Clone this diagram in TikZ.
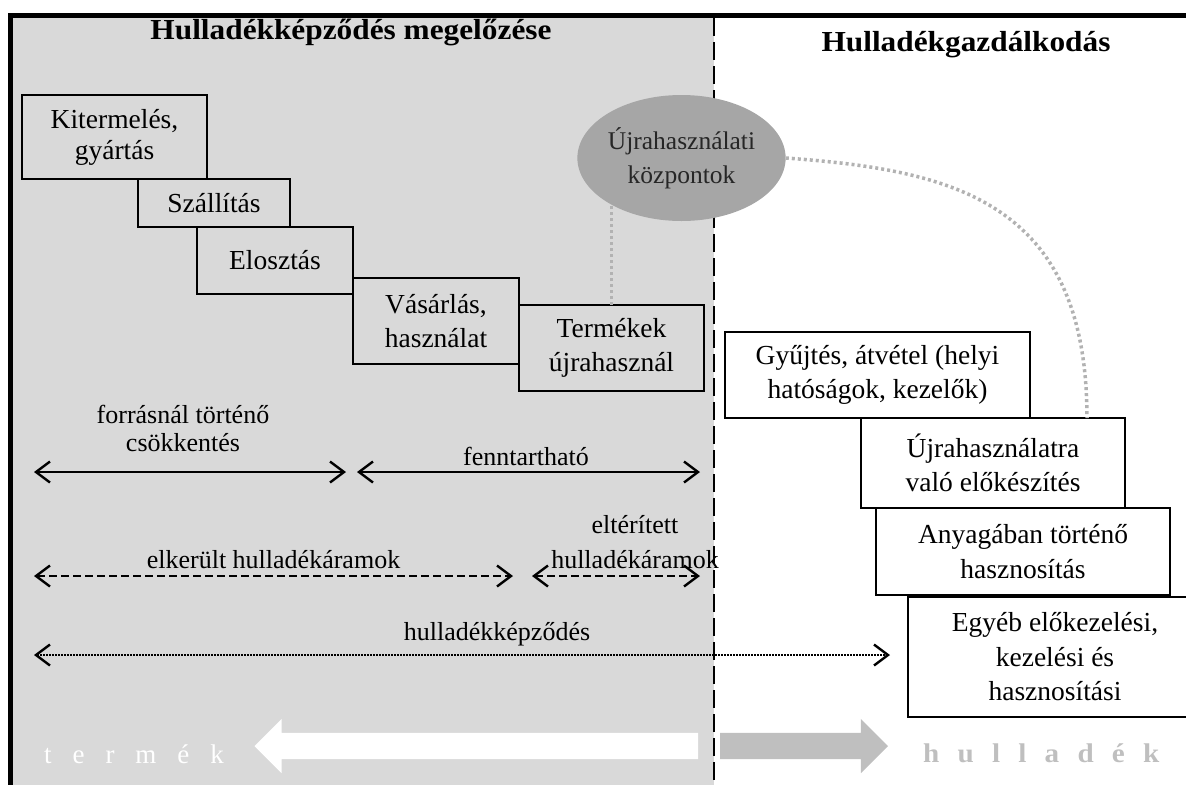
\documentclass[tikz,border=0pt]{standalone}
\usepackage{fontspec}
\setmainfont{Liberation Serif}[BoldFeatures={FakeStretch=1.08}]
\newfontfamily\ritkabetu{Liberation Serif}[WordSpace=3.1]
\newfontfamily\ritkavastag{Liberation Serif Bold}[WordSpace=2.5,FakeStretch=1.08]
\usepackage{tikz}
\usetikzlibrary{arrows.meta,positioning,shapes.geometric,shapes.arrows}
\definecolor{hatter}{RGB}{217,217,217}
\definecolor{kozpszurke}{RGB}{166,166,166}
\definecolor{pontszurke}{RGB}{178,178,178}
\definecolor{nyilszurke}{RGB}{191,191,191}

\begin{document}
\begin{tikzpicture}[x=1pt,y=-1pt,font=\fontsize{27.5}{34.5}\selectfont,
  >={Straight Barb[length=14pt,width=21pt,line width=2.4pt]}]
\tikzstyle{lep}=[draw,line width=2.2pt,align=center,inner sep=0pt,outer sep=0pt,anchor=north west]
\tikzstyle{cim}=[font=\fontsize{29}{34}\selectfont\bfseries,anchor=base]
\tikzstyle{cimke}=[font=\fontsize{26}{34}\selectfont,align=center,anchor=base,inner sep=0pt]
\tikzstyle{kapcs}=[draw=pontszurke,line width=3.5pt,dash pattern=on 3pt off 3pt]
\tikzstyle{nyil}=[<->,line width=2pt]
\tikzstyle{vastagnyil}=[single arrow,minimum width=54pt,single arrow head extend=14pt,
  inner xsep=0pt,inner ysep=13pt,outer sep=0pt,anchor=tip]
\useasboundingbox (0,0) rectangle (1186,785);
% prevention half and frame
\fill[hatter] (13,18) rectangle (714,785);
\draw[line width=5pt] (8,15.5) -- (1186,15.5);
\draw[line width=5pt] (10.5,13) -- (10.5,785);
\draw[line width=2.4pt,dash pattern=on 18pt off 6pt] (714,18) -- (714,785);
\node[cim] (cimbal) at (351,39) {Hulladékképződés megelőzése};
\node[cim] (cimjobb) at (966,51) {Hulladékgazdálkodás};
% product chain
\node[lep,minimum width=185pt,minimum height=84pt,font=\fontsize{27.5}{31}\selectfont] (kit) at (22,95) {Kitermelés,\\gyártás};
\node[lep,minimum width=152pt,minimum height=48pt] (szal) at ([xshift=116pt]kit.south west) {Szállítás};
\node[lep,minimum width=156pt,minimum height=67pt] (elo) at ([xshift=59pt]szal.south west) {Elosztás};
\node[lep,minimum width=166pt,minimum height=86pt] (vas) at ([yshift=16pt]elo.south east) {Vásárlás,\\használat};
\node[lep,minimum width=185pt,minimum height=86pt] (term) at ([yshift=-27pt]vas.north east) {Termékek\\újrahasznál};
% reuse centres
\node[ellipse,fill=kozpszurke,minimum width=203pt,minimum height=126pt,inner sep=0pt,
  text=black!85,font=\fontsize{25.5}{34}\selectfont,align=center] (kozp) at (681.5,158) {Újrahasználati\\központok};
% waste management chain
\node[lep,fill=white,minimum width=305pt,minimum height=86pt] (gyujt) at (725,332) {Gyűjtés, átvétel (helyi\\hatóságok, kezelők)};
\node[lep,fill=white,minimum width=264pt,minimum height=90pt] (ujra) at ([xshift=136pt]gyujt.south west) {Újrahasználatra\\való előkészítés};
\node[lep,fill=white,minimum width=294pt,minimum height=87pt] (anyag) at ([xshift=15pt]ujra.south west) {Anyagában történő\\hasznosítás};
\node[lep,fill=white,minimum width=294pt,minimum height=120pt] (egyeb) at ([xshift=32pt,yshift=-2pt]anyag.south west) {Egyéb előkezelési,\\kezelési és\\hasznosítási};
\coordinate (ujrafel) at ([xshift=226pt]ujra.north west);
\draw[kapcs] (term.north) -- (term.north |- kozp.-147);
\draw[kapcs] (kozp.east) .. controls +(165,12) and +(0,-218) .. (ujrafel);
% ranges
\coordinate (s1a) at (34,472); \coordinate (s1b) at (346,472);
\coordinate (s1c) at (357,472); \coordinate (s1d) at (700,472);
\coordinate (s2a) at (34,576); \coordinate (s2b) at (513,576);
\coordinate (s2c) at (532,576); \coordinate (s2d) at (700,576);
\coordinate (s3a) at (34,655); \coordinate (s3b) at (890,655);
\draw[nyil] (s1a) -- (s1b);
\draw[nyil] (s1c) -- (s1d);
\draw[nyil,dash pattern=on 8pt off 4pt] (s2a) -- (s2b);
\draw[nyil,dash pattern=on 8pt off 4pt] (s2c) -- (s2d);
\draw[nyil,dash pattern=on 1.6pt off 1.4pt] (s3a) -- (s3b);
\node[cimke,font=\fontsize{26}{28}\selectfont] (forras) at (183,451) {forrásnál történő\\csökkentés};
\node[cimke] (fennt) at (526,465) {fenntartható};
\node[cimke] (elker) at (273.5,568) {elkerült hulladékáramok};
\node[cimke,font=\fontsize{26}{35}\selectfont] (elter) at (635,568) {eltérített\\hulladékáramok};
\node[cimke] (hkep) at (497,640) {hulladékképződés};
% product <- | -> waste
\node[vastagnyil,shape border rotate=180,fill=white,minimum height=443.5pt] (termnyil) at (254.5,746) {};
\node[vastagnyil,fill=nyilszurke,minimum height=168pt] (hullnyil) at (888,746) {};
\node[anchor=base west,inner sep=0pt,text=white,
  font=\ritkabetu\fontsize{27}{30}\selectfont] (termfel) at (44,763) {t e r m é k};
\node[anchor=base west,inner sep=0pt,text=nyilszurke,
  font=\ritkavastag\fontsize{27}{30}\selectfont] (hullfel) at (923,762) {h u l l a d é k};
\end{tikzpicture}
\end{document}
